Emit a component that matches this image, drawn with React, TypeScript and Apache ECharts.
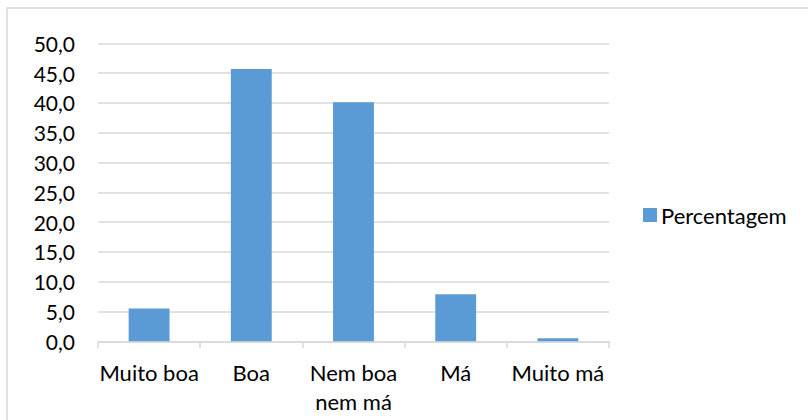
import React, { useEffect, useRef } from "react";
import * as echarts from "echarts";

const categories = ["Muito boa", "Boa", "Nem boa\nnem má", "Má", "Muito má"];
const percentagem = [5.5, 45.7, 40.1, 7.9, 0.5];
const seriesName = "Percentagem";

const FONT = "Lato";

export default function App() {
  const ref = useRef<HTMLDivElement>(null);
  useEffect(() => {
    const chart = echarts.init(ref.current!, null, { renderer: "svg" });
    chart.setOption({
      animation: false,
      backgroundColor: "#ffffff",
      textStyle: { fontFamily: FONT },
      graphic: [
        {
          type: "rect",
          shape: { x: 7, y: 8, width: 900, height: 500 },
          style: { fill: "none", stroke: "#d9d9d9", lineWidth: 1.5 },
          silent: true,
        },
      ],
      legend: {
        data: [seriesName],
        left: 643,
        top: 204,
        icon: "rect",
        itemWidth: 14,
        itemHeight: 14,
        itemGap: 10,
        textStyle: { fontFamily: FONT, fontSize: 22, color: "#000", padding: [0, 0, 0, -1] },
        padding: 0,
      },
      grid: { left: 98, right: 199, top: 43.3, bottom: 78.7, containLabel: false },
      xAxis: {
        type: "category",
        data: categories,
        axisLine: { lineStyle: { color: "#d9d9d9", width: 1.5 } },
        axisTick: { show: true, length: 7, lineStyle: { color: "#d9d9d9", width: 1.5 } },
        axisLabel: {
          color: "#000",
          fontSize: 22,
          fontFamily: FONT,
          lineHeight: 29,
          margin: 17,
          interval: 0,
        },
      },
      yAxis: {
        type: "value",
        min: 0,
        max: 50,
        interval: 5,
        axisLine: { show: false },
        axisTick: { show: false },
        splitLine: { lineStyle: { color: "#d9d9d9", width: 1.5 } },
        axisLabel: {
          color: "#000",
          fontSize: 21,
          fontFamily: FONT,
          margin: 23,
          formatter: (v: number) => v.toFixed(1).replace(".", ","),
        },
      },
      series: [
        {
          name: seriesName,
          type: "bar",
          data: percentagem,
          barWidth: "40%",
          itemStyle: { color: "#5b9bd5" },
        },
      ],
    });
    return () => chart.dispose();
  }, []);
  return (
    <div
      ref={ref}
      style={{ position: "fixed", left: 0, top: 0, width: 808, height: 420 }}
    />
  );
}
